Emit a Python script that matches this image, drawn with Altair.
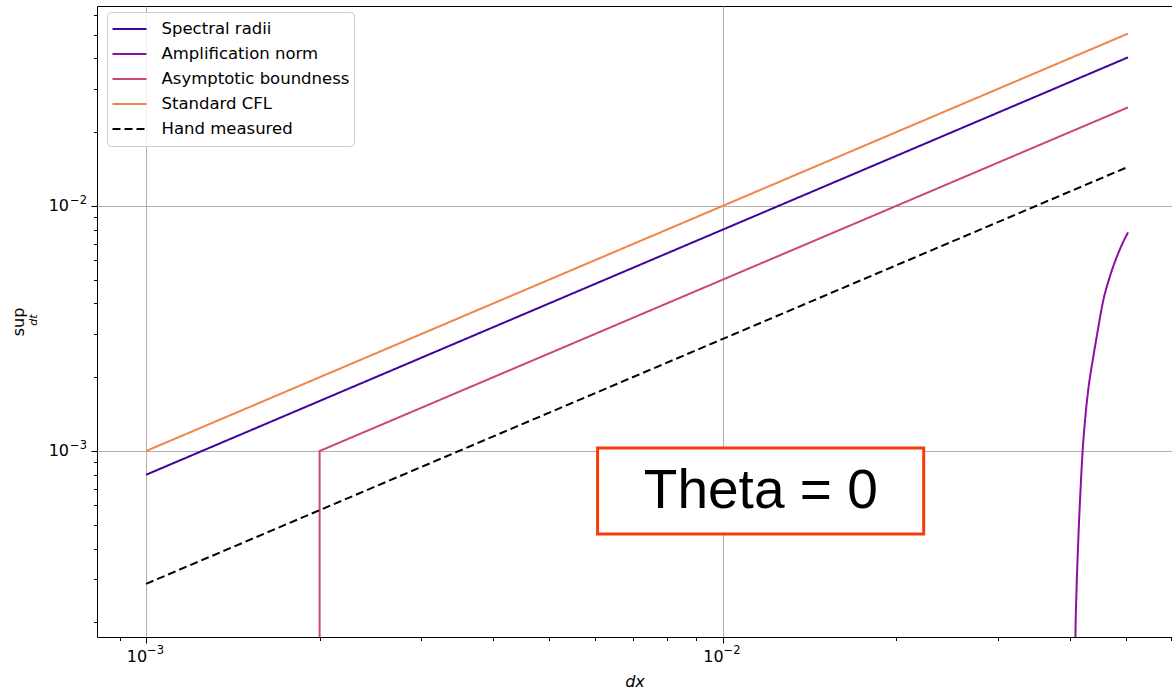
import altair as alt
import pandas as pd

# ---- data ----
series_names = ["Spectral radii", "Amplification norm", "Asymptotic boundness", "Standard CFL", "Hand measured"]
series_colors = ["#41049d", "#8f0da4", "#cc4778", "#f2844b", "#000000"]
series_dash = [[1, 0], [1, 0], [1, 0], [1, 0], [8, 4]]

spectral_x = [0.001, 0.0505]
spectral_y = [0.0008, 0.0404]

amp_x = [0.04084, 0.04093, 0.04109, 0.04137, 0.04175, 0.04214, 0.04259, 0.04315,
         0.04384, 0.04462, 0.0457, 0.04707, 0.049, 0.0505]
amp_y = [0.0001, 0.000174, 0.000258, 0.000413, 0.000674, 0.00101, 0.00138, 0.00183,
         0.00233, 0.00298, 0.00407, 0.00523, 0.00674, 0.0078]

asym_x = [0.002, 0.002, 0.0505]
asym_y = [0.00001, 0.001, 0.02525]

cfl_x = [0.001, 0.0505]
cfl_y = [0.001, 0.0505]

hand_x = [0.001, 0.0505]
hand_y = [0.000287, 0.01444]

x_ticks = [0.0009, 0.001, 0.002, 0.003, 0.004, 0.005, 0.006, 0.007, 0.008, 0.009,
           0.01, 0.02, 0.03, 0.04, 0.05, 0.06]
y_ticks = [0.0002, 0.0003, 0.0004, 0.0005, 0.0006, 0.0007, 0.0008, 0.0009, 0.001,
           0.002, 0.003, 0.004, 0.005, 0.006, 0.007, 0.008, 0.009, 0.01,
           0.02, 0.03, 0.04, 0.05, 0.06]
x_decades = [0.001, 0.01]
x_decade_exp = ["−3", "−2"]
y_decades = [0.001, 0.01]
y_decade_exp = ["−3", "−2"]
x_domain = [0.000822, 0.0602]
y_domain = [0.0001742, 0.06546]

box_x = [0.00607, 0.02233]
box_y = [0.000458, 0.001028]
box_text = "Theta = 0"
box_text_pos = [0.01165, 0.000686]

rows = []
for name, xs_, ys_ in [
    ("Spectral radii", spectral_x, spectral_y),
    ("Asymptotic boundness", asym_x, asym_y),
    ("Standard CFL", cfl_x, cfl_y),
    ("Hand measured", hand_x, hand_y),
]:
    for i, (a, b) in enumerate(zip(xs_, ys_)):
        rows.append({"series": name, "dx": a, "dt": b, "order": i})
df = pd.DataFrame(rows)
amp_df = pd.DataFrame({"series": ["Amplification norm"] * len(amp_x), "dx": amp_x, "dt": amp_y,
                       "order": list(range(len(amp_x)))})

major_test = "abs(log(datum.value)/LN10 - round(log(datum.value)/LN10)) < 0.001"

x_axis = alt.Axis(
    values=x_ticks, labels=False, domain=False, title="dx", titleFontStyle="italic",
    titleFont="DejaVu Sans", titleFontSize=16, titleFontWeight="normal", titleColor="black",
    titlePadding=30,
    tickColor="black", tickWidth=1,
    tickSize={"condition": {"test": major_test, "value": 6}, "value": 3.5},
    grid=True, gridColor="#b0b0b0", gridWidth=1,
    gridOpacity={"condition": {"test": major_test, "value": 1}, "value": 0},
)
y_axis = alt.Axis(
    values=y_ticks, labels=False, domain=False, title=None,
    tickColor="black", tickWidth=1,
    tickSize={"condition": {"test": major_test, "value": 6}, "value": 3.5},
    grid=True, gridColor="#b0b0b0", gridWidth=1,
    gridOpacity={"condition": {"test": major_test, "value": 1}, "value": 0},
)

xs = alt.Scale(type="log", domain=x_domain, nice=False)
ys = alt.Scale(type="log", domain=y_domain, nice=False)

enc = dict(
    x=alt.X("dx:Q", scale=xs, axis=x_axis),
    y=alt.Y("dt:Q", scale=ys, axis=y_axis),
    order="order:Q",
    color=alt.Color("series:N", scale=alt.Scale(domain=series_names, range=series_colors),
                    sort=series_names,
                    legend=alt.Legend(title=None, orient="none", legendX=10, legendY=6)),
    strokeDash=alt.StrokeDash("series:N", scale=alt.Scale(domain=series_names, range=series_dash),
                              sort=series_names,
                              legend=alt.Legend(title=None, orient="none", legendX=10, legendY=6)),
)
lines = alt.Chart(df).mark_line(clip=True, strokeWidth=2).encode(**enc)
amp_line = alt.Chart(amp_df).mark_line(clip=True, strokeWidth=2, interpolate="monotone").encode(**enc)

# tick labels in matplotlib mathtext style (base + raised exponent)
xl_df = pd.DataFrame({"dx": x_decades, "base": ["10"] * len(x_decades), "exp": x_decade_exp})
yl_df = pd.DataFrame({"dt": y_decades, "base": ["10"] * len(y_decades), "exp": y_decade_exp})
tick_font = "DejaVu Sans"
xl_base = alt.Chart(xl_df).mark_text(font=tick_font, fontSize=16, color="black", align="right",
                                     baseline="middle", dx=1).encode(
    x=alt.X("dx:Q", scale=xs), y=alt.value(651), text="base:N")
xl_exp = alt.Chart(xl_df).mark_text(font=tick_font, fontSize=11.5, color="black", align="left",
                                    baseline="middle", dx=1).encode(
    x=alt.X("dx:Q", scale=xs), y=alt.value(645), text="exp:N")
yl_base = alt.Chart(yl_df).mark_text(font=tick_font, fontSize=16, color="black", align="right",
                                     baseline="middle").encode(
    x=alt.value(-28), y=alt.Y("dt:Q", scale=ys), text="base:N")
yl_exp = alt.Chart(yl_df).mark_text(font=tick_font, fontSize=11.5, color="black", align="left",
                                    baseline="middle", dy=-5).encode(
    x=alt.value(-27), y=alt.Y("dt:Q", scale=ys), text="exp:N")

box_df = pd.DataFrame({"x1": [box_x[0]], "x2": [box_x[1]], "y1": [box_y[0]], "y2": [box_y[1]],
                       "tx": [box_text_pos[0]], "ty": [box_text_pos[1]], "t": [box_text]})
box = alt.Chart(box_df).mark_rect(fill="white", stroke="#f93a0b", strokeWidth=3).encode(
    x=alt.X("x1:Q", scale=xs), x2="x2:Q", y=alt.Y("y1:Q", scale=ys), y2="y2:Q")
box_label = alt.Chart(box_df).mark_text(font="Liberation Sans", fontSize=55, color="black",
                                        align="center", baseline="middle").encode(
    x=alt.X("tx:Q", scale=xs), y=alt.Y("ty:Q", scale=ys), text="t:N")

ylab_df = pd.DataFrame({"a": ["sup"], "b": ["dt"]})
ylab1 = alt.Chart(ylab_df).mark_text(font="DejaVu Sans", fontSize=16, angle=270, color="black",
                                     align="center", baseline="middle").encode(
    x=alt.value(-78), y=alt.value(316), text="a:N")
ylab2 = alt.Chart(ylab_df).mark_text(font="DejaVu Sans", fontSize=11, fontStyle="italic", angle=270,
                                     color="black", align="center", baseline="middle").encode(
    x=alt.value(-63), y=alt.value(314), text="b:N")

chart = alt.layer(lines, amp_line, box, box_label, ylab1, ylab2,
                  xl_base, xl_exp, yl_base, yl_exp).properties(
    width=1075, height=631,
    padding={"left": 97, "top": 6, "right": 0, "bottom": 53},
    autosize=alt.AutoSizeParams(type="none"),
).configure_view(stroke="black", strokeWidth=1).configure_legend(
    fillColor="rgba(255,255,255,0.8)", strokeColor="#cccccc", cornerRadius=4, padding=4.5,
    labelFont="DejaVu Sans", labelFontSize=16.5, labelColor="black", labelLimit=0,
    symbolType="stroke", symbolSize=1156, symbolStrokeWidth=2, rowPadding=0, clipHeight=25,
    labelOffset=14,
)

chart.save("out.html", embed_options={"renderer": "svg", "actions": False})
